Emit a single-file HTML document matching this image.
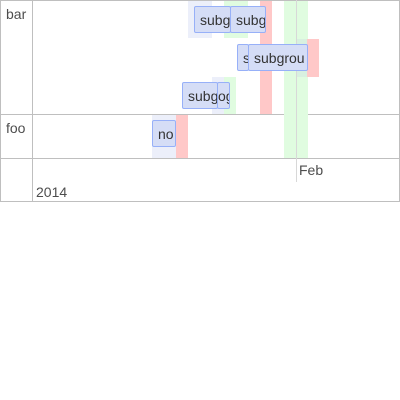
<!DOCTYPE html>
<html><head><style>
body{margin:0;width:400px;height:400px;background:#fff;font-family:"Liberation Sans",sans-serif;position:relative;overflow:hidden}
div{box-sizing:border-box;position:absolute}
.b{background:#d5ddf6;border:1px solid #97b0f8;border-radius:2px;font-size:14px;color:#333;overflow:hidden;white-space:nowrap;padding:5px 0 0 5px;height:27px}
.l{font-size:14px;color:#4d4d4d}
</style></head><body>
<div style="left:0;top:0;width:400px;height:202px;border:1px solid #bfbfbf"></div>
<div style="left:32px;top:0;width:1px;height:202px;background:#bfbfbf"></div>
<div style="left:0;top:114px;width:400px;height:1px;background:#bfbfbf"></div>
<div style="left:0;top:158px;width:400px;height:1px;background:#bfbfbf"></div>
<div class="l" style="left:6px;top:6px">bar</div>
<div class="l" style="left:6px;top:120px">foo</div>

<div style="left:188px;top:1px;width:24px;height:37px;background:#eceffa"></div>
<div style="left:224px;top:1px;width:24px;height:37px;background:#e0fce0"></div>
<div style="left:260px;top:1px;width:12px;height:113px;background:#ffc8c8"></div>
<div style="left:284px;top:1px;width:24px;height:157px;background:#e0fce0"></div>
<div style="left:296px;top:39px;width:12px;height:38px;background:#d8f0e0"></div>
<div style="left:307px;top:39px;width:12px;height:38px;background:#ffc8c8"></div>
<div style="left:212px;top:77px;width:12px;height:37px;background:#eceffa"></div>
<div style="left:224px;top:77px;width:12px;height:37px;background:#e0fce0"></div>
<div style="left:152px;top:115px;width:24px;height:43px;background:#eceffa"></div>
<div style="left:176px;top:115px;width:12px;height:43px;background:#ffc8c8"></div>
<div style="left:296px;top:0;width:1px;height:182px;background:#d8d8d8"></div>

<div class="b" style="left:194px;top:6px;width:37px">subg</div>
<div class="b" style="left:230px;top:6px;width:36px">subg</div>
<div class="b" style="left:237px;top:44px;width:12px">subgroup</div>
<div class="b" style="left:248px;top:44px;width:60px">subgrou</div>
<div class="b" style="left:182px;top:82px;width:36px">subg</div>
<div class="b" style="left:217px;top:82px;width:13px;padding-left:0">og</div>
<div class="b" style="left:152px;top:120px;width:24px">no</div>

<div class="l" style="left:299px;top:162px">Feb</div>
<div class="l" style="left:36px;top:184px">2014</div>
</body></html>
